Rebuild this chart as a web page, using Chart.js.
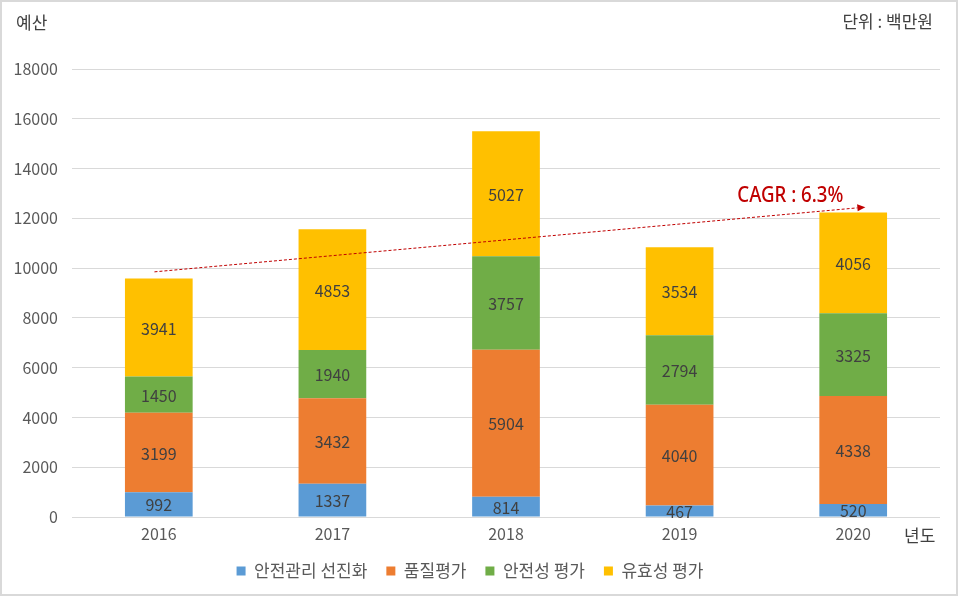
<!DOCTYPE html>
<html><head><meta charset="utf-8">
<script src="https://cdn.jsdelivr.net/npm/chart.js@4.4.1/dist/chart.umd.min.js"></script>
<style>html,body{margin:0;padding:0;background:#fff}#wrap{width:958px;height:596px;position:relative}</style>
</head><body><div id="wrap"><canvas id="c" width="958" height="596"></canvas></div>
<script>
const categories = ['2016','2017','2018','2019','2020'];
const seriesNames = ['안전관리 선진화','품질평가','안전성 평가','유효성 평가'];
const safetyMgmt = [992, 1337, 814, 467, 520];
const quality = [3199, 3432, 5904, 4040, 4338];
const safetyEval = [1450, 1940, 3757, 2794, 3325];
const efficacy = [3941, 4853, 5027, 3534, 4056];
const colors = ['#5B9BD5','#ED7D31','#70AD47','#FFC000'];
const yTicks = [0,2000,4000,6000,8000,10000,12000,14000,16000,18000];
const cagrLabel = 'CAGR : 6.3%';
const cagrFrom = {cat: -0.025, value: 9850};
const cagrTo = {cat: 4.07, value: 12450};

const FONT = '"Noto Sans CJK KR","Noto Sans",sans-serif';
const valuesList = [safetyMgmt, quality, safetyEval, efficacy];

const extras = {
  id: 'extras',
  beforeDraw(chart) {
    const ctx = chart.ctx;
    ctx.save();
    ctx.fillStyle = '#fff';
    ctx.fillRect(0,0,chart.width,chart.height);
    ctx.restore();
  },
  afterDatasetsDraw(chart) {
    const ctx = chart.ctx;
    ctx.save();
    ctx.font = '16px ' + FONT;
    ctx.fillStyle = '#404040';
    ctx.textAlign = 'center';
    ctx.textBaseline = 'middle';
    chart.data.datasets.forEach((ds, di) => {
      const meta = chart.getDatasetMeta(di);
      meta.data.forEach((el, i) => {
        const p = el.getProps(['x','y','base'], true);
        ctx.fillText(String(ds.data[i]), p.x, (p.y + p.base) / 2 + 1);
      });
    });
    // CAGR arrow
    const xs = chart.scales.x, ys = chart.scales.y;
    const x1 = xs.getPixelForValue(cagrFrom.cat), y1 = ys.getPixelForValue(cagrFrom.value);
    const x2 = xs.getPixelForValue(cagrTo.cat), y2 = ys.getPixelForValue(cagrTo.value);
    const ang = Math.atan2(y2 - y1, x2 - x1);
    const hl = 8, hw = 3.5;
    ctx.strokeStyle = '#C00000';
    ctx.lineWidth = 1;
    ctx.setLineDash([3,2]);
    ctx.beginPath();
    ctx.moveTo(x1, y1);
    ctx.lineTo(x2 - hl*Math.cos(ang), y2 - hl*Math.sin(ang));
    ctx.stroke();
    ctx.setLineDash([]);
    ctx.fillStyle = '#C00000';
    ctx.beginPath();
    ctx.moveTo(x2, y2);
    ctx.lineTo(x2 - hl*Math.cos(ang) + hw*Math.sin(ang), y2 - hl*Math.sin(ang) - hw*Math.cos(ang));
    ctx.lineTo(x2 - hl*Math.cos(ang) - hw*Math.sin(ang), y2 - hl*Math.sin(ang) + hw*Math.cos(ang));
    ctx.closePath();
    ctx.fill();
    // CAGR text
    ctx.font = '500 21px "Noto Sans",sans-serif';
    ctx.textAlign = 'left';
    ctx.textBaseline = 'alphabetic';
    const w = ctx.measureText(cagrLabel).width;
    const target = 106;
    ctx.translate(x2 - 128, y2 - 5);
    ctx.scale(target / w, 1);
    ctx.fillText(cagrLabel, 0, 0);
    ctx.restore();
  },
  afterDraw(chart) {
    const ctx = chart.ctx;
    ctx.save();
    ctx.fillStyle = '#404040';
    ctx.font = '17px ' + FONT;
    ctx.textBaseline = 'middle';
    ctx.textAlign = 'left';
    ctx.fillText('예산', 16, 23);
    ctx.textAlign = 'right';
    ctx.fillText('단위 : 백만원', 933, 22);
    ctx.textAlign = 'left';
    ctx.fillText('년도', 904, 536);
    ctx.strokeStyle = '#d9d9d9';
    ctx.lineWidth = 2;
    ctx.strokeRect(1, 1, chart.width - 2, chart.height - 2);
    ctx.restore();
  }
};

new Chart(document.getElementById('c'), {
  type: 'bar',
  data: {
    labels: categories,
    datasets: seriesNames.map((n, i) => ({
      label: n,
      data: valuesList[i],
      backgroundColor: colors[i],
      borderWidth: 0,
      categoryPercentage: 1,
      barPercentage: 0.39
    }))
  },
  options: {
    responsive: false,
    animation: false,
    events: [],
    layout: {padding: {top: 69, right: 18, bottom: 6.5, left: 0}},
    scales: {
      x: {
        stacked: true,
        grid: {display: false, drawTicks: false},
        border: {display: false},
        ticks: {font: {size: 16, family: FONT}, color: '#595959', padding: 7, maxRotation: 0},
        afterFit(s) { s.height = 26.5; }
      },
      y: {
        stacked: true,
        min: 0, max: 18000,
        afterBuildTicks(s) { s.ticks = yTicks.map(v => ({value: v})); },
        grid: {color: '#d9d9d9', drawTicks: false, lineWidth: 1},
        border: {display: false},
        ticks: {font: {size: 16, family: FONT}, color: '#595959', padding: 14, callback: v => String(v)},
        afterFit(s) { s.width = 72; }
      }
    },
    plugins: {
      legend: {
        position: 'bottom',
        labels: {boxWidth: 9, boxHeight: 9, padding: 19, color: '#595959', font: {size: 17, family: FONT}}
      },
      tooltip: {enabled: false}
    }
  },
  plugins: [extras]
});
</script></body></html>
